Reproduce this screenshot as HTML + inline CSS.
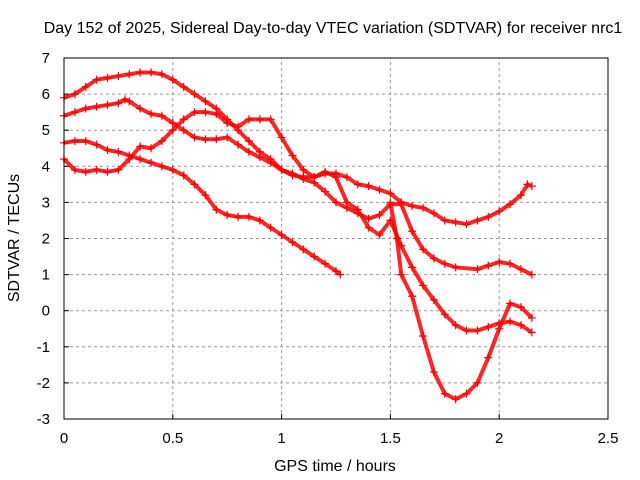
<!DOCTYPE html>
<html><head><meta charset="utf-8"><style>
body{margin:0;background:#fff;}
svg{display:block;font-family:"Liberation Sans",sans-serif;}
</style></head><body>
<svg id="chart" width="640" height="480">
<text x="333" y="33" text-anchor="middle" font-size="16">Day 152 of 2025, Sidereal Day-to-day VTEC variation (SDTVAR) for receiver nrc1</text>
<text x="335" y="471" text-anchor="middle" font-size="16">GPS time / hours</text>
<text transform="translate(19,238) rotate(-90)" text-anchor="middle" font-size="16">SDTVAR / TECUs</text>
<g id="grid"></g><g id="series"></g>
<rect x="64" y="58" width="544" height="361" fill="none" stroke="#000" stroke-width="1"/>
</svg>
<script>
const xTicks=[0,0.5,1,1.5,2,2.5];
const xTickLabels=["0","0.5","1","1.5","2","2.5"];
const yTicks=[-3,-2,-1,0,1,2,3,4,5,6,7];
const yTickLabels=["-3","-2","-1","0","1","2","3","4","5","6","7"];
const seriesA=[[0,5.9],[0.05,6.0],[0.1,6.2],[0.15,6.4],[0.2,6.45],[0.25,6.5],[0.3,6.55],[0.35,6.6],[0.4,6.6],[0.45,6.55],[0.5,6.4],[0.55,6.2],[0.6,6.0],[0.65,5.8],[0.7,5.6],[0.75,5.3],[0.8,5.0],[0.85,4.7],[0.9,4.4],[0.95,4.2],[1.0,3.9],[1.05,3.75],[1.1,3.7],[1.15,3.7],[1.2,3.8],[1.25,3.8],[1.3,3.7],[1.35,3.5],[1.4,3.45],[1.45,3.35],[1.5,3.25],[1.55,3.0],[1.6,2.9],[1.65,2.85],[1.7,2.7],[1.75,2.5],[1.8,2.45],[1.85,2.4],[1.9,2.5],[1.95,2.6],[2.0,2.75],[2.05,2.95],[2.1,3.2],[2.13,3.5],[2.15,3.45]];
const seriesB=[[0,5.4],[0.05,5.5],[0.1,5.6],[0.15,5.65],[0.2,5.7],[0.25,5.75],[0.28,5.85],[0.3,5.8],[0.35,5.6],[0.4,5.45],[0.45,5.4],[0.5,5.2],[0.55,5.0],[0.6,4.8],[0.65,4.75],[0.7,4.75],[0.75,4.8],[0.8,4.6],[0.85,4.4],[0.9,4.25],[0.95,4.1],[1.0,3.9],[1.05,3.8],[1.1,3.65],[1.15,3.55],[1.2,3.3],[1.25,3.0],[1.3,2.85],[1.35,2.7],[1.4,2.55],[1.45,2.65],[1.5,2.95],[1.55,2.95],[1.6,2.2],[1.65,1.7],[1.7,1.45],[1.75,1.3],[1.8,1.2],[1.9,1.15],[1.95,1.25],[2.0,1.35],[2.05,1.3],[2.1,1.15],[2.15,1.0]];
const seriesC=[[0,4.65],[0.05,4.7],[0.1,4.7],[0.15,4.6],[0.2,4.45],[0.25,4.4],[0.3,4.3],[0.35,4.2],[0.4,4.1],[0.45,4.0],[0.5,3.9],[0.55,3.75],[0.6,3.5],[0.65,3.2],[0.7,2.8],[0.75,2.65],[0.8,2.6],[0.85,2.6],[0.9,2.5],[0.95,2.3],[1.0,2.1],[1.05,1.9],[1.1,1.7],[1.15,1.5],[1.2,1.3],[1.25,1.1],[1.27,1.0]];
const seriesD=[[0,4.2],[0.05,3.9],[0.1,3.85],[0.15,3.9],[0.2,3.85],[0.25,3.9],[0.3,4.2],[0.35,4.55],[0.4,4.5],[0.45,4.7],[0.5,5.0],[0.55,5.3],[0.6,5.5],[0.65,5.5],[0.7,5.45],[0.75,5.2],[0.8,5.1],[0.85,5.3],[0.9,5.3],[0.95,5.3],[1.0,4.8],[1.05,4.3],[1.1,3.9],[1.15,3.7],[1.2,3.85],[1.25,3.7],[1.3,3.0],[1.35,2.8],[1.4,2.3],[1.45,2.1],[1.5,2.5],[1.55,1.8],[1.6,1.2],[1.65,0.7],[1.7,0.3],[1.75,-0.1],[1.8,-0.4],[1.85,-0.55],[1.9,-0.55],[1.95,-0.45],[2.0,-0.35],[2.05,-0.3],[2.1,-0.4],[2.15,-0.6]];
const seriesE=[[1.5,3.0],[1.53,2.0],[1.55,1.0],[1.6,0.4],[1.65,-0.7],[1.7,-1.7],[1.75,-2.3],[1.8,-2.45],[1.85,-2.3],[1.9,-2.0],[1.95,-1.3],[2.0,-0.5],[2.05,0.2],[2.1,0.1],[2.15,-0.2]];
const allSeries=[seriesA,seriesB,seriesC,seriesD,seriesE];
const X0=64,X1=608,Y0=419,Y1=58;
function sx(v){return X0+(v-0)/(2.5-0)*(X1-X0);}
function sy(v){return Y0-(v+3)/10*(Y0-Y1);}
const NS="http://www.w3.org/2000/svg";
const grid=document.getElementById('grid');
function mk(tag,attrs,parent){const e=document.createElementNS(NS,tag);for(const k in attrs)e.setAttribute(k,attrs[k]);parent.appendChild(e);return e;}
xTicks.forEach((t,i)=>{
  const x=sx(t);
  if(i>0&&i<xTicks.length-1){const g=mk('line',{x1:x,y1:Y0,x2:x,y2:Y1,stroke:'#999','stroke-dasharray':'3,3'},grid);
  
  }
  const tk=mk('line',{x1:x,y1:Y0,x2:x,y2:Y0-5,stroke:'#000'},grid);
  
  
  const tx=mk('text',{x:x,y:443,'text-anchor':'middle','font-size':'15'},grid);tx.textContent=xTickLabels[i];
  
  
});
yTicks.forEach((t,i)=>{
  const y=sy(t);
  if(i>0&&i<yTicks.length-1){const g=mk('line',{x1:X0,y1:y,x2:X1,y2:y,stroke:'#999','stroke-dasharray':'3,3'},grid);
  
  }
  const tk=mk('line',{x1:X0,y1:y,x2:X0+5,y2:y,stroke:'#000'},grid);
  
  
  const tx=mk('text',{x:50,y:y+5,'text-anchor':'end','font-size':'15'},grid);tx.textContent=yTickLabels[i];
  
  
});
const sg=document.getElementById('series');
allSeries.forEach((s,si)=>{
  const g=mk('g',{},sg);
  
  
  const pts=s.map(p=>sx(p[0])+','+sy(p[1])).join(' ');
  const pl=mk('polyline',{points:pts,fill:'none',stroke:'#f00','stroke-width':'4','stroke-linejoin':'round',opacity:'0.85'},g);
  
  
  s.forEach(p=>{
    const x=sx(p[0]),y=sy(p[1]);
    const m=mk('path',{d:`M${x-4},${y}H${x+4}M${x},${y-4}V${y+4}`,stroke:'#f00','stroke-width':'1.2'},g);
    
    
  });
});
</script>
</body></html>
